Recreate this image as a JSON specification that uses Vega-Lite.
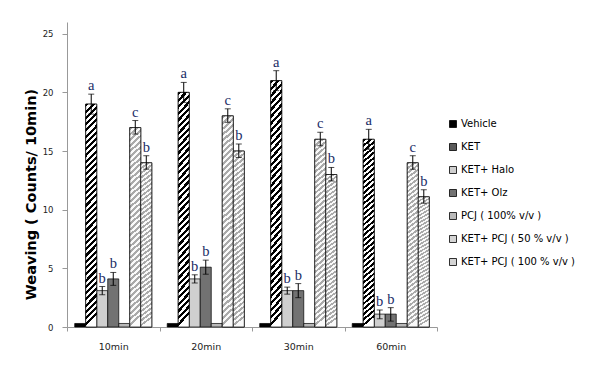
{
"$schema": "https://vega.github.io/schema/vega-lite/v6.json",
"width": 370, "height": 305,
"autosize": {"type": "none"},
"padding": {"left": 67, "top": 22, "right": 157, "bottom": 47},
"background": "white",
"config": {"view": {"stroke": null}, "font": "DejaVu Sans"},
"data": {"values": [
{"time":"10min","group":"Vehicle","value":0.3,"lo":null,"hi":null,"letter":null},
{"time":"10min","group":"KET","value":19,"lo":18.15,"hi":19.85,"letter":"a"},
{"time":"10min","group":"KET+ Halo","value":3.1,"lo":2.75,"hi":3.45,"letter":"b"},
{"time":"10min","group":"KET+ Olz","value":4.1,"lo":3.55,"hi":4.65,"letter":"b"},
{"time":"10min","group":"PCJ ( 100% v/v )","value":0.3,"lo":null,"hi":null,"letter":null},
{"time":"10min","group":"KET+ PCJ ( 50 % v/v )","value":17,"lo":16.45,"hi":17.6,"letter":"c"},
{"time":"10min","group":"KET+ PCJ ( 100 % v/v )","value":14,"lo":13.45,"hi":14.6,"letter":"b"},
{"time":"20min","group":"Vehicle","value":0.3,"lo":null,"hi":null,"letter":null},
{"time":"20min","group":"KET","value":20,"lo":19.15,"hi":20.85,"letter":"a"},
{"time":"20min","group":"KET+ Halo","value":4.1,"lo":3.75,"hi":4.45,"letter":"b"},
{"time":"20min","group":"KET+ Olz","value":5.1,"lo":4.5,"hi":5.7,"letter":"b"},
{"time":"20min","group":"PCJ ( 100% v/v )","value":0.3,"lo":null,"hi":null,"letter":null},
{"time":"20min","group":"KET+ PCJ ( 50 % v/v )","value":18,"lo":17.45,"hi":18.6,"letter":"c"},
{"time":"20min","group":"KET+ PCJ ( 100 % v/v )","value":15,"lo":14.45,"hi":15.6,"letter":"b"},
{"time":"30min","group":"Vehicle","value":0.3,"lo":null,"hi":null,"letter":null},
{"time":"30min","group":"KET","value":21,"lo":20.15,"hi":21.85,"letter":"a"},
{"time":"30min","group":"KET+ Halo","value":3.1,"lo":2.8,"hi":3.4,"letter":"b"},
{"time":"30min","group":"KET+ Olz","value":3.1,"lo":2.5,"hi":3.7,"letter":"b"},
{"time":"30min","group":"PCJ ( 100% v/v )","value":0.3,"lo":null,"hi":null,"letter":null},
{"time":"30min","group":"KET+ PCJ ( 50 % v/v )","value":16,"lo":15.45,"hi":16.6,"letter":"c"},
{"time":"30min","group":"KET+ PCJ ( 100 % v/v )","value":13,"lo":12.45,"hi":13.6,"letter":"b"},
{"time":"60min","group":"Vehicle","value":0.3,"lo":null,"hi":null,"letter":null},
{"time":"60min","group":"KET","value":16,"lo":15.15,"hi":16.85,"letter":"a"},
{"time":"60min","group":"KET+ Halo","value":1.1,"lo":0.7,"hi":1.45,"letter":"b"},
{"time":"60min","group":"KET+ Olz","value":1.1,"lo":0.5,"hi":1.65,"letter":"b"},
{"time":"60min","group":"PCJ ( 100% v/v )","value":0.3,"lo":null,"hi":null,"letter":null},
{"time":"60min","group":"KET+ PCJ ( 50 % v/v )","value":14,"lo":13.45,"hi":14.6,"letter":"c"},
{"time":"60min","group":"KET+ PCJ ( 100 % v/v )","value":11.1,"lo":10.55,"hi":11.7,"letter":"b"}
]},
"encoding": {
"x": {"field": "time", "type": "nominal", "sort": ["10min","20min","30min","60min"],
 "scale": {"paddingInner": 0, "paddingOuter": 0},
 "axis": {"title": null, "labelAngle": 0, "tickBand": "extent", "domainColor": "#999", "tickColor": "#999", "tickSize": 4, "labelFontSize": 9.5, "labelColor": "#222", "labelPadding": 10}},
"xOffset": {"field": "group", "type": "nominal",
 "sort": ["Vehicle","KET","KET+ Halo","KET+ Olz","PCJ ( 100% v/v )","KET+ PCJ ( 50 % v/v )","KET+ PCJ ( 100 % v/v )"],
 "scale": {"domain": ["Vehicle","KET","KET+ Halo","KET+ Olz","PCJ ( 100% v/v )","KET+ PCJ ( 50 % v/v )","KET+ PCJ ( 100 % v/v )"], "paddingInner": 0, "paddingOuter": 0.7}}
},
"layer": [
{"mark": {"type": "bar", "stroke": "#000", "strokeWidth": 0.7},
 "encoding": {
  "y": {"field": "value", "type": "quantitative", "title": "Weaving ( Counts/ 10min)", "scale": {"domain": [0, 25]},
   "axis": {"values": [0,5,10,15,20,25], "grid": false, "domainColor": "#999", "tickColor": "#999", "tickSize": 5, "labelFontSize": 8.5, "labelColor": "#222", "labelPadding": 9,
    "titleFont": "DejaVu Sans", "titleFontSize": 14.5, "titleFontWeight": "bold", "titleColor": "#000", "titleX": -36, "titleY": 172, "titleBaseline": "middle"}},
  "fill": {"field": "group", "type": "nominal",
   "scale": {"domain": ["Vehicle","KET","KET+ Halo","KET+ Olz","PCJ ( 100% v/v )","KET+ PCJ ( 50 % v/v )","KET+ PCJ ( 100 % v/v )"],
    "range": ["#000000", "#5a5a5a", "#cfcfcf", "#727272", "#b8b8b8", "#d4d4d4", "#d4d4d4"]},
   "legend": {"orient": "none", "legendX": 381, "legendY": 97, "title": null, "symbolType": "square", "symbolSize": 49, "symbolStrokeColor": "#000", "symbolStrokeWidth": 0.8, "symbolOpacity": 1, "labelFont": "DejaVu Sans", "labelFontSize": 10, "labelColor": "#000", "rowPadding": 11, "labelOffset": 3, "labelLimit": 200}}
 }},
{"transform": [{"filter": "datum.group == 'KET'"}],
 "mark": {"type": "bar", "stroke": "#000", "strokeWidth": 0.7,
  "fill": {"gradient":"linear","x1":0,"y1":0,"x2":0.05,"y2":1,"stops":[{"offset":0,"color":"#000"},{"offset":0.014,"color":"#000"},{"offset":0.014,"color":"#fff"},{"offset":0.028,"color":"#fff"},{"offset":0.028,"color":"#000"},{"offset":0.042,"color":"#000"},{"offset":0.042,"color":"#fff"},{"offset":0.056,"color":"#fff"},{"offset":0.056,"color":"#000"},{"offset":0.07,"color":"#000"},{"offset":0.07,"color":"#fff"},{"offset":0.084,"color":"#fff"},{"offset":0.084,"color":"#000"},{"offset":0.098,"color":"#000"},{"offset":0.098,"color":"#fff"},{"offset":0.112,"color":"#fff"},{"offset":0.112,"color":"#000"},{"offset":0.126,"color":"#000"},{"offset":0.126,"color":"#fff"},{"offset":0.14,"color":"#fff"},{"offset":0.14,"color":"#000"},{"offset":0.154,"color":"#000"},{"offset":0.154,"color":"#fff"},{"offset":0.168,"color":"#fff"},{"offset":0.168,"color":"#000"},{"offset":0.182,"color":"#000"},{"offset":0.182,"color":"#fff"},{"offset":0.196,"color":"#fff"},{"offset":0.196,"color":"#000"},{"offset":0.21,"color":"#000"},{"offset":0.21,"color":"#fff"},{"offset":0.224,"color":"#fff"},{"offset":0.224,"color":"#000"},{"offset":0.238,"color":"#000"},{"offset":0.238,"color":"#fff"},{"offset":0.252,"color":"#fff"},{"offset":0.252,"color":"#000"},{"offset":0.266,"color":"#000"},{"offset":0.266,"color":"#fff"},{"offset":0.28,"color":"#fff"},{"offset":0.28,"color":"#000"},{"offset":0.294,"color":"#000"},{"offset":0.294,"color":"#fff"},{"offset":0.308,"color":"#fff"},{"offset":0.308,"color":"#000"},{"offset":0.322,"color":"#000"},{"offset":0.322,"color":"#fff"},{"offset":0.336,"color":"#fff"},{"offset":0.336,"color":"#000"},{"offset":0.35,"color":"#000"},{"offset":0.35,"color":"#fff"},{"offset":0.364,"color":"#fff"},{"offset":0.364,"color":"#000"},{"offset":0.378,"color":"#000"},{"offset":0.378,"color":"#fff"},{"offset":0.392,"color":"#fff"},{"offset":0.392,"color":"#000"},{"offset":0.406,"color":"#000"},{"offset":0.406,"color":"#fff"},{"offset":0.42,"color":"#fff"},{"offset":0.42,"color":"#000"},{"offset":0.434,"color":"#000"},{"offset":0.434,"color":"#fff"},{"offset":0.448,"color":"#fff"},{"offset":0.448,"color":"#000"},{"offset":0.462,"color":"#000"},{"offset":0.462,"color":"#fff"},{"offset":0.476,"color":"#fff"},{"offset":0.476,"color":"#000"},{"offset":0.49,"color":"#000"},{"offset":0.49,"color":"#fff"},{"offset":0.504,"color":"#fff"},{"offset":0.504,"color":"#000"},{"offset":0.518,"color":"#000"},{"offset":0.518,"color":"#fff"},{"offset":0.532,"color":"#fff"},{"offset":0.532,"color":"#000"},{"offset":0.546,"color":"#000"},{"offset":0.546,"color":"#fff"},{"offset":0.56,"color":"#fff"},{"offset":0.56,"color":"#000"},{"offset":0.574,"color":"#000"},{"offset":0.574,"color":"#fff"},{"offset":0.588,"color":"#fff"},{"offset":0.588,"color":"#000"},{"offset":0.602,"color":"#000"},{"offset":0.602,"color":"#fff"},{"offset":0.616,"color":"#fff"},{"offset":0.616,"color":"#000"},{"offset":0.63,"color":"#000"},{"offset":0.63,"color":"#fff"},{"offset":0.644,"color":"#fff"},{"offset":0.644,"color":"#000"},{"offset":0.658,"color":"#000"},{"offset":0.658,"color":"#fff"},{"offset":0.672,"color":"#fff"},{"offset":0.672,"color":"#000"},{"offset":0.686,"color":"#000"},{"offset":0.686,"color":"#fff"},{"offset":0.7,"color":"#fff"},{"offset":0.7,"color":"#000"},{"offset":0.714,"color":"#000"},{"offset":0.714,"color":"#fff"},{"offset":0.728,"color":"#fff"},{"offset":0.728,"color":"#000"},{"offset":0.742,"color":"#000"},{"offset":0.742,"color":"#fff"},{"offset":0.756,"color":"#fff"},{"offset":0.756,"color":"#000"},{"offset":0.77,"color":"#000"},{"offset":0.77,"color":"#fff"},{"offset":0.784,"color":"#fff"},{"offset":0.784,"color":"#000"},{"offset":0.798,"color":"#000"},{"offset":0.798,"color":"#fff"},{"offset":0.812,"color":"#fff"},{"offset":0.812,"color":"#000"},{"offset":0.826,"color":"#000"},{"offset":0.826,"color":"#fff"},{"offset":0.84,"color":"#fff"},{"offset":0.84,"color":"#000"},{"offset":0.854,"color":"#000"},{"offset":0.854,"color":"#fff"},{"offset":0.868,"color":"#fff"},{"offset":0.868,"color":"#000"},{"offset":0.882,"color":"#000"},{"offset":0.882,"color":"#fff"},{"offset":0.896,"color":"#fff"},{"offset":0.896,"color":"#000"},{"offset":0.91,"color":"#000"},{"offset":0.91,"color":"#fff"},{"offset":0.924,"color":"#fff"},{"offset":0.924,"color":"#000"},{"offset":0.938,"color":"#000"},{"offset":0.938,"color":"#fff"},{"offset":0.952,"color":"#fff"},{"offset":0.952,"color":"#000"},{"offset":0.966,"color":"#000"},{"offset":0.966,"color":"#fff"},{"offset":0.98,"color":"#fff"},{"offset":0.98,"color":"#000"},{"offset":0.994,"color":"#000"},{"offset":0.994,"color":"#fff"},{"offset":1,"color":"#fff"}]}},
 "encoding": {"y": {"field": "value", "type": "quantitative", "title": "Weaving ( Counts/ 10min)"}}},
{"transform": [{"filter": "datum.group == 'KET+ PCJ ( 50 % v/v )' || datum.group == 'KET+ PCJ ( 100 % v/v )'"}],
 "mark": {"type": "bar", "stroke": "#000", "strokeWidth": 0.7,
  "fill": {"gradient":"linear","x1":0,"y1":0,"x2":0.05,"y2":1,"stops":[{"offset":0,"color":"#aaa"},{"offset":0.014,"color":"#aaa"},{"offset":0.014,"color":"#fafafa"},{"offset":0.028,"color":"#fafafa"},{"offset":0.028,"color":"#aaa"},{"offset":0.042,"color":"#aaa"},{"offset":0.042,"color":"#fafafa"},{"offset":0.056,"color":"#fafafa"},{"offset":0.056,"color":"#aaa"},{"offset":0.07,"color":"#aaa"},{"offset":0.07,"color":"#fafafa"},{"offset":0.084,"color":"#fafafa"},{"offset":0.084,"color":"#aaa"},{"offset":0.098,"color":"#aaa"},{"offset":0.098,"color":"#fafafa"},{"offset":0.112,"color":"#fafafa"},{"offset":0.112,"color":"#aaa"},{"offset":0.126,"color":"#aaa"},{"offset":0.126,"color":"#fafafa"},{"offset":0.14,"color":"#fafafa"},{"offset":0.14,"color":"#aaa"},{"offset":0.154,"color":"#aaa"},{"offset":0.154,"color":"#fafafa"},{"offset":0.168,"color":"#fafafa"},{"offset":0.168,"color":"#aaa"},{"offset":0.182,"color":"#aaa"},{"offset":0.182,"color":"#fafafa"},{"offset":0.196,"color":"#fafafa"},{"offset":0.196,"color":"#aaa"},{"offset":0.21,"color":"#aaa"},{"offset":0.21,"color":"#fafafa"},{"offset":0.224,"color":"#fafafa"},{"offset":0.224,"color":"#aaa"},{"offset":0.238,"color":"#aaa"},{"offset":0.238,"color":"#fafafa"},{"offset":0.252,"color":"#fafafa"},{"offset":0.252,"color":"#aaa"},{"offset":0.266,"color":"#aaa"},{"offset":0.266,"color":"#fafafa"},{"offset":0.28,"color":"#fafafa"},{"offset":0.28,"color":"#aaa"},{"offset":0.294,"color":"#aaa"},{"offset":0.294,"color":"#fafafa"},{"offset":0.308,"color":"#fafafa"},{"offset":0.308,"color":"#aaa"},{"offset":0.322,"color":"#aaa"},{"offset":0.322,"color":"#fafafa"},{"offset":0.336,"color":"#fafafa"},{"offset":0.336,"color":"#aaa"},{"offset":0.35,"color":"#aaa"},{"offset":0.35,"color":"#fafafa"},{"offset":0.364,"color":"#fafafa"},{"offset":0.364,"color":"#aaa"},{"offset":0.378,"color":"#aaa"},{"offset":0.378,"color":"#fafafa"},{"offset":0.392,"color":"#fafafa"},{"offset":0.392,"color":"#aaa"},{"offset":0.406,"color":"#aaa"},{"offset":0.406,"color":"#fafafa"},{"offset":0.42,"color":"#fafafa"},{"offset":0.42,"color":"#aaa"},{"offset":0.434,"color":"#aaa"},{"offset":0.434,"color":"#fafafa"},{"offset":0.448,"color":"#fafafa"},{"offset":0.448,"color":"#aaa"},{"offset":0.462,"color":"#aaa"},{"offset":0.462,"color":"#fafafa"},{"offset":0.476,"color":"#fafafa"},{"offset":0.476,"color":"#aaa"},{"offset":0.49,"color":"#aaa"},{"offset":0.49,"color":"#fafafa"},{"offset":0.504,"color":"#fafafa"},{"offset":0.504,"color":"#aaa"},{"offset":0.518,"color":"#aaa"},{"offset":0.518,"color":"#fafafa"},{"offset":0.532,"color":"#fafafa"},{"offset":0.532,"color":"#aaa"},{"offset":0.546,"color":"#aaa"},{"offset":0.546,"color":"#fafafa"},{"offset":0.56,"color":"#fafafa"},{"offset":0.56,"color":"#aaa"},{"offset":0.574,"color":"#aaa"},{"offset":0.574,"color":"#fafafa"},{"offset":0.588,"color":"#fafafa"},{"offset":0.588,"color":"#aaa"},{"offset":0.602,"color":"#aaa"},{"offset":0.602,"color":"#fafafa"},{"offset":0.616,"color":"#fafafa"},{"offset":0.616,"color":"#aaa"},{"offset":0.63,"color":"#aaa"},{"offset":0.63,"color":"#fafafa"},{"offset":0.644,"color":"#fafafa"},{"offset":0.644,"color":"#aaa"},{"offset":0.658,"color":"#aaa"},{"offset":0.658,"color":"#fafafa"},{"offset":0.672,"color":"#fafafa"},{"offset":0.672,"color":"#aaa"},{"offset":0.686,"color":"#aaa"},{"offset":0.686,"color":"#fafafa"},{"offset":0.7,"color":"#fafafa"},{"offset":0.7,"color":"#aaa"},{"offset":0.714,"color":"#aaa"},{"offset":0.714,"color":"#fafafa"},{"offset":0.728,"color":"#fafafa"},{"offset":0.728,"color":"#aaa"},{"offset":0.742,"color":"#aaa"},{"offset":0.742,"color":"#fafafa"},{"offset":0.756,"color":"#fafafa"},{"offset":0.756,"color":"#aaa"},{"offset":0.77,"color":"#aaa"},{"offset":0.77,"color":"#fafafa"},{"offset":0.784,"color":"#fafafa"},{"offset":0.784,"color":"#aaa"},{"offset":0.798,"color":"#aaa"},{"offset":0.798,"color":"#fafafa"},{"offset":0.812,"color":"#fafafa"},{"offset":0.812,"color":"#aaa"},{"offset":0.826,"color":"#aaa"},{"offset":0.826,"color":"#fafafa"},{"offset":0.84,"color":"#fafafa"},{"offset":0.84,"color":"#aaa"},{"offset":0.854,"color":"#aaa"},{"offset":0.854,"color":"#fafafa"},{"offset":0.868,"color":"#fafafa"},{"offset":0.868,"color":"#aaa"},{"offset":0.882,"color":"#aaa"},{"offset":0.882,"color":"#fafafa"},{"offset":0.896,"color":"#fafafa"},{"offset":0.896,"color":"#aaa"},{"offset":0.91,"color":"#aaa"},{"offset":0.91,"color":"#fafafa"},{"offset":0.924,"color":"#fafafa"},{"offset":0.924,"color":"#aaa"},{"offset":0.938,"color":"#aaa"},{"offset":0.938,"color":"#fafafa"},{"offset":0.952,"color":"#fafafa"},{"offset":0.952,"color":"#aaa"},{"offset":0.966,"color":"#aaa"},{"offset":0.966,"color":"#fafafa"},{"offset":0.98,"color":"#fafafa"},{"offset":0.98,"color":"#aaa"},{"offset":0.994,"color":"#aaa"},{"offset":0.994,"color":"#fafafa"},{"offset":1,"color":"#fafafa"}]}},
 "encoding": {"y": {"field": "value", "type": "quantitative", "title": "Weaving ( Counts/ 10min)"}}},
{"transform": [{"filter": "datum.hi != null"}],
 "mark": {"type": "rule", "color": "#000", "strokeWidth": 1},
 "encoding": {"y": {"field": "lo", "type": "quantitative", "title": "Weaving ( Counts/ 10min)"}, "y2": {"field": "hi"}}},
{"transform": [{"filter": "datum.hi != null"}],
 "mark": {"type": "tick", "color": "#000", "size": 6, "thickness": 1},
 "encoding": {"y": {"field": "hi", "type": "quantitative", "title": "Weaving ( Counts/ 10min)"}}},
{"transform": [{"filter": "datum.hi != null"}],
 "mark": {"type": "tick", "color": "#000", "size": 6, "thickness": 1},
 "encoding": {"y": {"field": "lo", "type": "quantitative", "title": "Weaving ( Counts/ 10min)"}}},
{"transform": [{"filter": "datum.letter != null"}],
 "mark": {"type": "text", "baseline": "bottom", "dy": -1, "font": "Liberation Serif", "fontSize": 14.5, "color": "#1a2c66"},
 "encoding": {"y": {"field": "hi", "type": "quantitative", "title": "Weaving ( Counts/ 10min)"}, "text": {"field": "letter"}}}
]
}
